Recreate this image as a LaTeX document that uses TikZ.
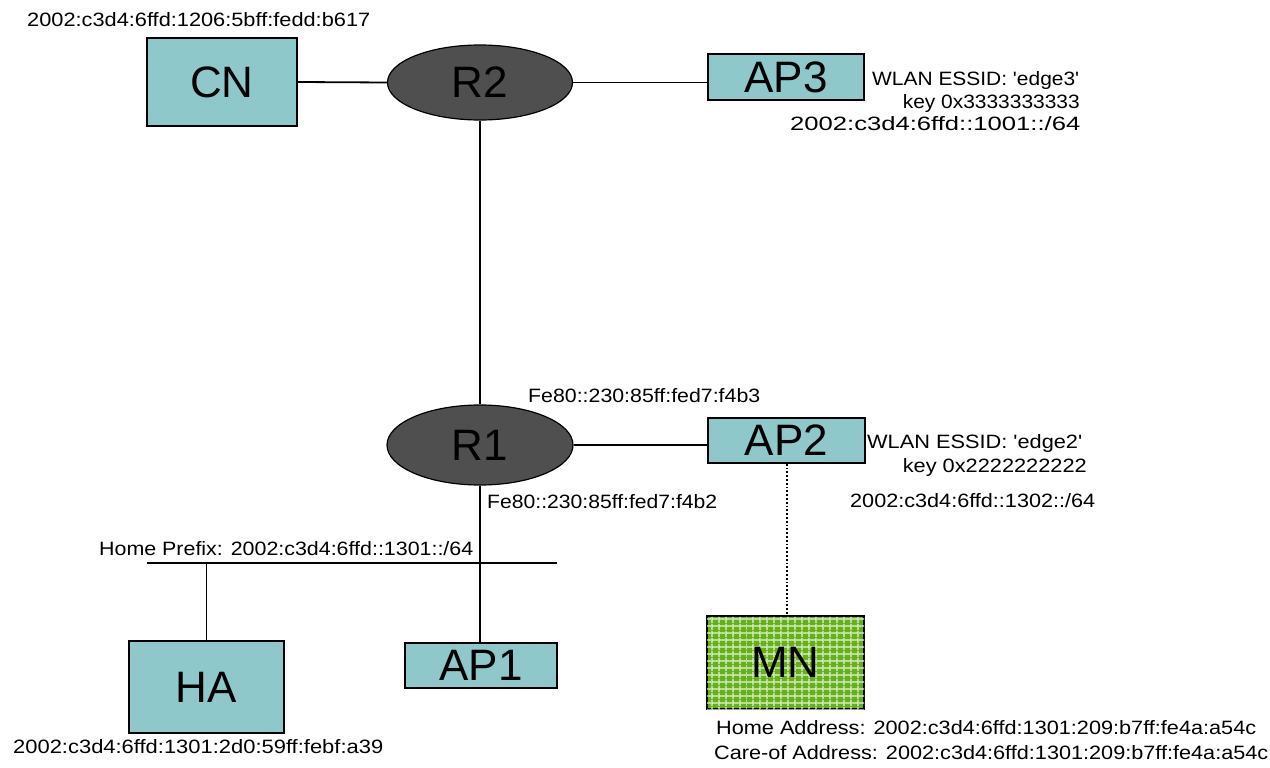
\documentclass[tikz,border=0pt]{standalone}
\usepackage{fontspec}
\setmainfont{Liberation Sans}
\usetikzlibrary{shapes.geometric,patterns.meta}
\definecolor{boxteal}{HTML}{8EC8CA}
\definecolor{rtrgray}{HTML}{4F4F4F}
\definecolor{mngreen}{HTML}{66B01E}
\definecolor{mngrid}{HTML}{E6F6D2}
\newcommand{\smtxt}[2]{\resizebox{#1pt}{14pt}{#2}}
\begin{document}
\begin{tikzpicture}[x=1pt,y=-1pt,
  big/.style={font=\fontsize{44}{44}\selectfont},
  hostbox/.style={draw=black,line width=1.6pt,fill=boxteal,rectangle,inner sep=0pt,big},
  router/.style={draw=black,line width=1.2pt,fill=rtrgray,ellipse,inner sep=0pt,big},
  link/.style={draw=black,line width=1.8pt},
  txt/.style={inner sep=0pt}
]
\useasboundingbox (0,0) rectangle (1270,768);
\fill[white] (0,0) rectangle (1270,768);

% nodes
\node[hostbox,minimum width=150pt,minimum height=88pt] (CN) at (222,82) {CN};
\node[router,minimum width=185pt,minimum height=75pt] (R2) at (480,82.5) {R2};
\node[hostbox,minimum width=156pt,minimum height=46pt] (AP3) at (786,77) {AP3};
\node[router,minimum width=186pt,minimum height=80pt] (R1) at (480,445) {R1};
\node[hostbox,minimum width=157pt,minimum height=45pt] (AP2) at (786.5,440.5) {AP2};
\node[hostbox,minimum width=155pt,minimum height=92pt] (HA) at (206.5,687) {HA};
\node[hostbox,minimum width=152pt,minimum height=45pt] (AP1) at (481,665.5) {AP1};
\node[hostbox,fill=mngreen,
  postaction={pattern={Lines[distance=6.5pt,angle=0,line width=1.2pt]},pattern color=mngrid},
  postaction={pattern={Lines[distance=6.5pt,angle=90,line width=1.2pt]},pattern color=mngrid},
  minimum width=157pt,minimum height=93pt] (MN) at (785.5,662.5) {MN};

% connectors
\coordinate (busL) at (147,563);
\coordinate (busR) at (557,563);
\draw[link] (CN.east) -- (R2.west);
\draw[link] (R2.east) -- (R2.east -| AP3.west);
\draw[link,line width=1.5pt] (R2.south) -- (R1.north);
\draw[link] (R1.east) -- (R1.east -| AP2.west);
\draw[link] (busL) -- (busR);
\draw[link,line width=1.5pt] (R1.south) -- (R1.south |- AP1.north);
\draw[link,line width=1.5pt] (HA.north) -- (HA.north |- busL);
\draw[link,dotted,line width=2pt] (AP2.south) -- (AP2.south |- MN.north);

% labels
\node[txt,anchor=base west] (cnaddr) at (27,27) {\smtxt{343}{2002:c3d4:6ffd:1206:5bff:fedd:b617}};
\node[txt,anchor=base west] (apthreessid) at (872,85) {\smtxt{207}{WLAN ESSID: \textquotesingle edge3\textquotesingle}};
\node[txt,anchor=base east] (apthreekey) at (1080,108) {\smtxt{177}{key 0x3333333333}};
\node[txt,anchor=base west] (apthreepre) at (790,131) {\smtxt{290}{2002:c3d4:6ffd::1001::/64}};
\node[txt,anchor=base west] (ronetop) at (528,402) {\smtxt{232}{Fe80::230:85ff:fed7:f4b3}};
\node[txt,anchor=base west] (ronebot) at (487,508) {\smtxt{230}{Fe80::230:85ff:fed7:f4b2}};
\node[txt,anchor=base west] (aptwossid) at (867,448) {\smtxt{215}{WLAN ESSID: \textquotesingle edge2\textquotesingle}};
\node[txt,anchor=base east] (aptwokey) at (1087,472) {\smtxt{184}{key 0x2222222222}};
\node[txt,anchor=base west] (aptwopre) at (850,507) {\smtxt{245}{2002:c3d4:6ffd::1302::/64}};
\node[txt,anchor=base west] (homepre) at (99,555) {\smtxt{374}{Home Prefix: 2002:c3d4:6ffd::1301::/64}};
\node[txt,anchor=base west] (haaddr) at (13,753) {\smtxt{370}{2002:c3d4:6ffd:1301:2d0:59ff:febf:a39}};
\node[txt,anchor=base west] (mnhome) at (716,734) {\smtxt{540}{Home Address: 2002:c3d4:6ffd:1301:209:b7ff:fe4a:a54c}};
\node[txt,anchor=base west] (mncoa) at (714,759) {\smtxt{554}{Care-of Address: 2002:c3d4:6ffd:1301:209:b7ff:fe4a:a54c}};
\end{tikzpicture}
\end{document}
